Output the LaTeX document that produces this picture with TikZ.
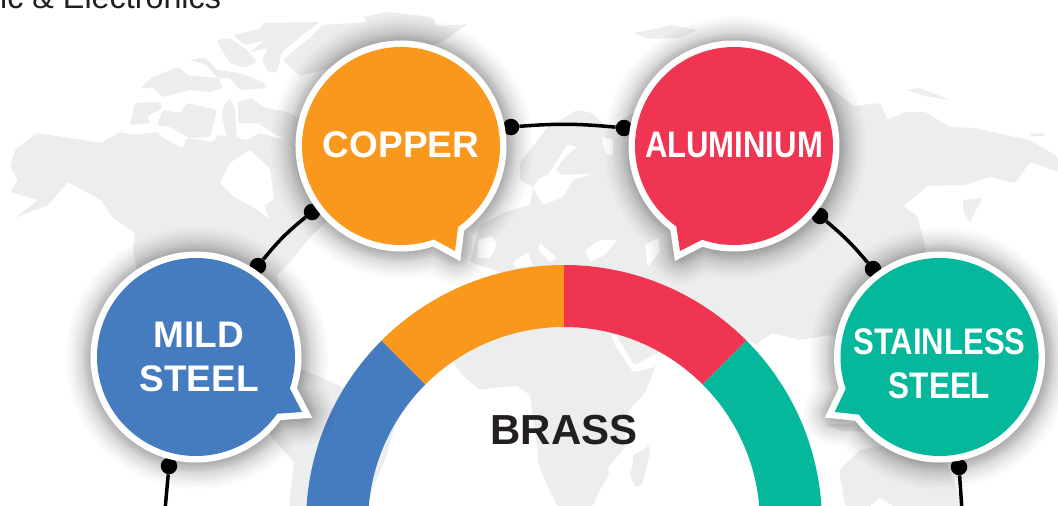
\documentclass[tikz,border=0pt]{standalone}
\usepackage{fontspec}
\setmainfont{Liberation Sans}
\definecolor{mapgrey}{HTML}{ECEEEE}
\definecolor{cblue}{HTML}{457CC0}
\definecolor{corange}{HTML}{FA981D}
\definecolor{cred}{HTML}{F03553}
\definecolor{cteal}{HTML}{05B89C}
\definecolor{cdark}{HTML}{231F20}
\tikzset{
  land/.style={fill=mapgrey,draw=none,rounded corners=1.5pt},
  sea/.style={fill=white,draw=none,rounded corners=1pt},
  ball/.style={circle,fill=black,draw=none,inner sep=0pt,minimum size=16.5pt},
  wire/.style={draw=black,line width=3.5pt},
  label/.style={text=white,font=\fontsize{37}{37}\selectfont\bfseries,anchor=base,inner sep=0pt},
  bigtitle/.style={text=cdark,font=\fontsize{42}{42}\selectfont\bfseries,anchor=base,inner sep=0pt},
  caption/.style={text=cdark,font=\fontsize{32.3}{32.3}\selectfont,anchor=base west,inner sep=0pt}
}
\newcommand{\bubblepath}[5]{({#1+99*cos(#3)},{#2+99*sin(#3)}) arc[start angle=#3,end angle=#4,radius=99] -- (#5) -- cycle}
\newcommand{\speech}[6]{%
  \foreach \k in {1,2,...,10,12,14,16,18,20,23,26}{
    \draw[black,opacity=.019,line width=12pt+\k pt*2,line join=round,yshift=-1pt,xshift=1pt]
      \bubblepath{#1}{#2}{#3}{#4}{#5};
  }
  \draw[white,fill=#6,line width=13pt,line join=miter,miter limit=6] \bubblepath{#1}{#2}{#3}{#4}{#5};
  \fill[#6] \bubblepath{#1}{#2}{#3}{#4}{#5};
}
\newcommand{\ringpart}[3]{%
  \fill[#3] ({564+258*cos(#1)},{523+258*sin(#1)}) arc[start angle=#1,end angle=#2,radius=258]
    -- ({564+196*cos(#2)},{523+196*sin(#2)}) arc[start angle=#2,end angle=#1,radius=196] -- cycle;
}
\begin{document}
\begin{tikzpicture}[x=1pt,y=-1pt]
\useasboundingbox (0,0) rectangle (1058,506);
\clip (0,0) rectangle (1058,506);
\fill[white] (0,0) rectangle (1058,506);

% --- world map ---
% North America
\fill[land] (15,150) -- (37,133) -- (70,138) -- (101,143) -- (120,132) -- (133,135) -- (157,132) -- (163,138) -- (183,148) -- (187,138) -- (213,142) -- (218,135) -- (235,137) -- (247,140) -- (260,133) -- (277,138) -- (300,140) -- (340,170)
  -- (340,210) -- (312,235) -- (290,262) -- (277,275) -- (280,300) -- (262,320) -- (240,335) -- (262,370) -- (232,380) -- (200,360) -- (175,320) -- (140,285)
  -- (133,250) -- (135,233) -- (112,217) -- (101,200) -- (68,182) -- (48,205) -- (15,218) -- (38,200) -- (10,192) -- (18,180) -- (10,167) -- cycle;
\fill[sea] (220,183) -- (230,163) -- (250,150) -- (270,169) -- (274,199) -- (264,206) -- (270,220) -- (258,210) -- (233,196) -- cycle;
% Arctic Canada
\fill[land] (233,35) -- (260,29) -- (263,23) -- (320,22) -- (305,33) -- (282,52) -- (277,72) -- (268,72) -- (262,60) -- (268,48) -- (250,52) -- (265,40) -- (245,45) -- cycle;
\fill[land] (217,40) -- (230,38) -- (247,50) -- (257,62) -- (243,68) -- (230,63) -- (220,47) -- cycle;
\fill[land] (190,60) -- (205,57) -- (217,70) -- (240,73) -- (263,82) -- (267,88) -- (240,90) -- (230,78) -- (217,78) -- (207,65) -- cycle;
\fill[land] (140,88) -- (153,77) -- (178,67) -- (188,75) -- (218,78) -- (223,88) -- (210,92) -- (190,90) -- (163,97) -- (153,88) -- cycle;
\fill[land] (135,103) -- (160,102) -- (163,107) -- (147,117) -- (150,123) -- (130,125) -- cycle;
\fill[land] (157,125) -- (163,110) -- (180,113) -- (187,103) -- (217,110) -- (210,137) -- (190,138) -- (170,127) -- cycle;
\fill[land] (223,107) -- (230,98) -- (235,110) -- (237,142) -- (227,137) -- (222,117) -- cycle;
\fill[land] (238,102) -- (252,98) -- (263,107) -- (290,113) -- (307,123) -- (307,150) -- (273,133) -- (258,123) -- (238,123) -- cycle;
% Greenland
\fill[land] (283,60) -- (313,35) -- (322,25) -- (368,22) -- (362,17) -- (389,12) -- (433,17) -- (436,26) -- (468,24) -- (445,40) -- (400,60) -- (340,65) -- (300,76) -- cycle;
% Eurasia
\fill[land] (480,225) -- (505,212) -- (530,205) -- (533,187) -- (520,180) -- (520,163) -- (547,128) -- (577,110) -- (592,113) -- (610,130) -- (700,60) -- (780,50) -- (840,95) -- (853,106) -- (880,103) -- (888,120) -- (905,112) -- (925,112) -- (950,127) -- (975,128) -- (1005,135) -- (1030,140) -- (1058,157)
  -- (1058,172) -- (1030,162) -- (1015,183) -- (990,177) -- (965,185) -- (928,186) -- (903,206) -- (917,216) -- (925,245) -- (925,270) -- (880,300) -- (868,340) -- (842,340) -- (830,335) -- (800,340) -- (772,333) -- (758,345) -- (700,320) -- (600,300) -- (530,280) -- (500,272) -- (470,262) -- cycle;
\fill[land] (633,33) -- (650,30) -- (672,25) -- (697,30) -- (680,38) -- (650,39) -- cycle;
\fill[land] (906,90) -- (920,88) -- (950,100) -- (925,96) -- cycle;
\fill[land] (1030,134) -- (1044,133) -- (1044,136) -- (1030,136) -- cycle;
% Kamchatka-side peninsula
\fill[land] (963,200) -- (983,198) -- (975,212) -- (970,223) -- (963,210) -- cycle;
% Africa and Arabia
\fill[land] (453,362) -- (440,340) -- (520,300) -- (700,310) -- (662,352) -- (655,368) -- (645,393) -- (630,408) -- (623,450) -- (608,467) -- (609,475) -- (598,493) -- (593,506) -- (557,506) -- (548,487) -- (538,463) -- (538,453) -- (532,410) -- (530,395) -- (517,386) -- (493,388) -- (480,390) -- (465,378) -- cycle;
\fill[sea] (611,335) -- (616,335) -- (625,350) -- (634,365) -- (660,352) -- (662,356) -- (655,367) -- (633,372) -- (625,360) -- (615,345) -- cycle;
% Madagascar
\fill[land] (648,443) -- (650,453) -- (642,485) -- (635,487) -- (630,475) -- (633,463) -- (633,455) -- (647,448) -- cycle;
% South America
\fill[land] (300,368) -- (340,386) -- (375,400) -- (395,425) -- (385,460) -- (372,490) -- (368,506) -- (289,506) -- (294,462) -- (270,435) -- (272,420) -- cycle;
% SE Asia, Indonesia
\fill[land] (815,425) -- (860,423) -- (866,432) -- (825,430) -- cycle;
% Australia
\fill[land] (839,470) -- (860,450) -- (885,445) -- (930,440) -- (950,470) -- (963,506) -- (845,506) -- cycle;
\fill[sea] (870,506) -- (880,498) -- (893,506) -- cycle;
% seas and inlets
\fill[sea] (567,145) -- (577,147) -- (567,155) -- (555,170) -- (562,175) -- (592,174) -- (573,180) -- (563,197) -- (543,205) -- (533,187) -- (540,178) -- (548,175) -- cycle;
\fill[sea] (602,137) -- (613,140) -- (613,155) -- (606,155) -- cycle;
\fill[sea] (478,240) -- (492,236) -- (497,246) -- (490,258) -- (478,258) -- cycle;
\fill[sea] (540,243) -- (557,258) -- (550,262) -- (538,250) -- cycle;
\fill[sea] (513,262) -- (528,252) -- (533,266) -- (515,268) -- cycle;
\fill[sea] (585,250) -- (600,240) -- (617,240) -- (605,255) -- (590,262) -- cycle;
\fill[sea] (645,245) -- (658,238) -- (660,250) -- (648,267) -- cycle;
\fill[sea] (772,333) -- (790,353) -- (795,367) -- (810,367) -- (817,387) -- (825,425) -- (870,440) -- (839,470) -- (830,506) -- (770,506) -- (720,370) -- cycle;

% --- caption ---
\node[caption] (cap) at (0,9) {ic \& Electronics};

% --- central ring ---
\ringpart{170}{225}{cblue}
\ringpart{225}{270}{corange}
\ringpart{270}{315}{cred}
\ringpart{315}{370}{cteal}
\node[bigtitle] (brass) at (564,444) {BRASS};

% --- connectors ---
\node[ball] (b1) at (511,127) {};
\node[ball] (b2) at (624,128) {};
\node[ball] (b3) at (312,212) {};
\node[ball] (b4) at (258,266) {};
\node[ball] (b5) at (820,216) {};
\node[ball] (b6) at (873,269) {};
\node[ball] (b7) at (169,466) {};
\node[ball] (b8) at (959,467) {};
\coordinate (e7) at (165,510);
\coordinate (e8) at (962,510);
\draw[wire] (b1) to[bend left=5] (b2);
\draw[wire] (b3) to[bend right=6] (b4);
\draw[wire] (b5) to[bend left=5] (b6);
\draw[wire] (b7) -- (e7);
\draw[wire] (b8) -- (e8);

% --- bubbles ---
\speech{401}{146}{70.7}{414.8}{455,251}{corange}
\speech{734}{146}{125.6}{468.8}{680,251}{cred}
\speech{196}{357}{35}{378.5}{302,412}{cblue}
\speech{939.5}{357}{161.3}{504.4}{834.6,412}{cteal}

\node[label] (copper) at (401,157) {COPPER};
\node[label] (alu) at (734,157) {\scalebox{.84}[1]{ALUMINIUM}};
\node[label] (mild) at (199,347) {MILD};
\node[label] (steela) at (199,391) {STEEL};
\node[label] (stain) at (939.5,354) {\scalebox{.84}[1]{STAINLESS}};
\node[label] (steelb) at (939.5,398) {\scalebox{.85}[1]{STEEL}};
\end{tikzpicture}
\end{document}
